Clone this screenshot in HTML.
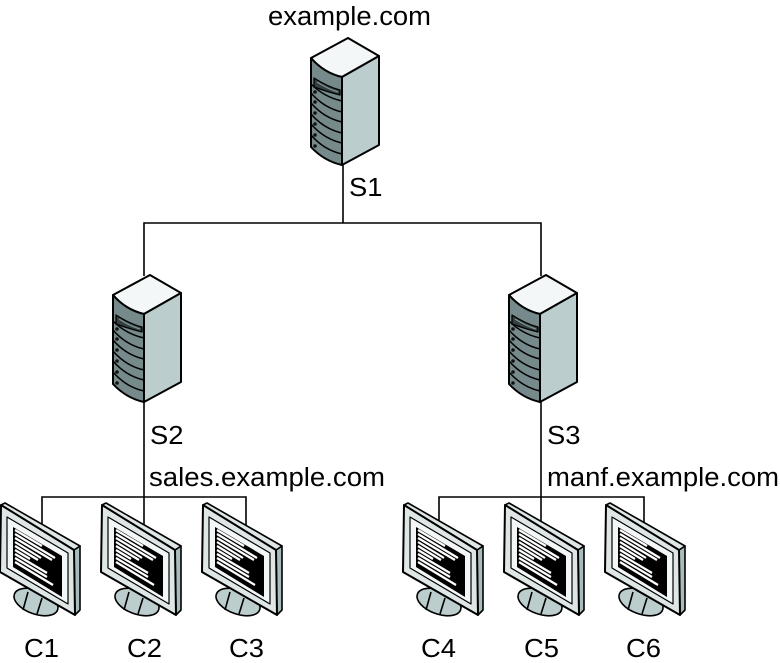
<!DOCTYPE html>
<html>
<head>
<meta charset="utf-8">
<style>
html,body{margin:0;padding:0;background:#fff;}
svg{display:block;}
text{font-family:"Liberation Sans",sans-serif;font-size:25.5px;fill:#000;}
</style>
</head>
<body>
<svg width="780" height="663" viewBox="0 0 780 663" xmlns="http://www.w3.org/2000/svg">
<defs>
<g id="srv" stroke-linejoin="round">
  <path d="M-32 -18 L5 -38 L36 -20 L-1 1 Q-19 -3 -32 -18Z" fill="#f4f7f7" stroke="#000" stroke-width="2"/>
  <path d="M-1 1 L36 -20 L36 69 L-1 89Z" fill="#bccdce" stroke="#000" stroke-width="2"/>
  <path d="M-32 -18 Q-19 -3 -1 1 L-1 89 Q-19 85 -32 71Z" fill="#76898b" stroke="#000" stroke-width="2"/>
  <g fill="none" stroke="#000" stroke-width="1.5">
    <path d="M-32 8 Q-19 21 -1 25"/>
    <path d="M-32 17 Q-19 32 -1 36"/>
    <path d="M-32 27 Q-19 42 -1 46"/>
    <path d="M-32 38 Q-19 53 -1 57"/>
    <path d="M-32 48 Q-19 63 -1 67"/>
    <path d="M-32 59 Q-19 74 -1 78"/>
  </g>
  <path d="M-29 2 Q-15 11 -3 14 L-3 19 Q-15 16 -29 11Z" fill="#33403f" stroke="#000" stroke-width="1.3"/>
  <path d="M-26 6 Q-15 13 -5 16" fill="none" stroke="#7f9596" stroke-width="1.3"/>
  <g fill="#111">
    <circle cx="-28" cy="16" r="1.8"/>
    <circle cx="-28" cy="26" r="1.8"/>
    <circle cx="-28" cy="37" r="1.8"/>
    <circle cx="-28" cy="48" r="1.8"/>
    <circle cx="-28" cy="59" r="1.8"/>
    <circle cx="-28" cy="70" r="1.8"/>
  </g>
</g>
<g id="mon" stroke-linejoin="round">
  <ellipse cx="36" cy="602" rx="23" ry="12" transform="rotate(20 36 602)" fill="#bccdce" stroke="#000" stroke-width="1.6"/>
  <path d="M28 592 L23 610 M42 598 L37 614" fill="none" stroke="#000" stroke-width="1.6"/>
  <path d="M74 550 L80 546 L80 610 L75 615Z" fill="#a9bcbd" stroke="#000" stroke-width="1.6"/>
  <path d="M1 505 L5 503 L80 546 L74 550Z" fill="#dfe6e6" stroke="#000" stroke-width="1.6"/>
  <path d="M1 505 L74 550 L75 615 L0 572Z" fill="#dfe6e6" stroke="#000" stroke-width="2"/>
  <path d="M7 517 L68 553 L68 604 L7 568Z" fill="#f4f7f7" stroke="#000" stroke-width="1.2"/>
  <path d="M13 527 L62 556 L62 597 L13 567Z" fill="#000"/>
  <g stroke="#fff" stroke-width="2.2" fill="none">
    <path d="M15 530 L42 546"/>
    <path d="M15 534 L55 558"/>
    <path d="M15 538 L52 560"/>
    <path d="M15 542 L41 558"/>
    <path d="M15 546 L38 560"/>
    <path d="M15 550 L30 559"/>
    <path d="M15 554 L47 573"/>
    <path d="M15 558 L47 577"/>
    <path d="M15 562 L53 585"/>
  </g>
</g>
</defs>

<g fill="none" stroke="#000" stroke-width="1.6">
  <path d="M343 160 V223 M144 276 V223 H541 V276"/>
  <path d="M144 400 V525"/>
  <path d="M541 400 V525"/>
  <path d="M42 525 V497 H246 V525"/>
  <path d="M439 525 V497 H644 V525"/>
</g>

<use href="#srv" transform="translate(343,76)"/>
<use href="#srv" transform="translate(145,313)"/>
<use href="#srv" transform="translate(541,313)"/>

<use href="#mon"/>
<use href="#mon" x="101"/>
<use href="#mon" x="202"/>
<use href="#mon" x="403"/>
<use href="#mon" x="504"/>
<use href="#mon" x="605"/>

<text x="268" y="25" textLength="163" lengthAdjust="spacingAndGlyphs">example.com</text>
<text x="349" y="196" textLength="33.5" lengthAdjust="spacingAndGlyphs">S1</text>
<text x="150" y="444" textLength="33.5" lengthAdjust="spacingAndGlyphs">S2</text>
<text x="149" y="486" textLength="236" lengthAdjust="spacingAndGlyphs">sales.example.com</text>
<text x="547" y="444" textLength="33.5" lengthAdjust="spacingAndGlyphs">S3</text>
<text x="547" y="486" textLength="232" lengthAdjust="spacingAndGlyphs">manf.example.com</text>
<text x="24" y="657" textLength="35" lengthAdjust="spacingAndGlyphs">C1</text>
<text x="127" y="657" textLength="35" lengthAdjust="spacingAndGlyphs">C2</text>
<text x="229" y="657" textLength="35" lengthAdjust="spacingAndGlyphs">C3</text>
<text x="421" y="657" textLength="35" lengthAdjust="spacingAndGlyphs">C4</text>
<text x="524" y="657" textLength="35" lengthAdjust="spacingAndGlyphs">C5</text>
<text x="626" y="657" textLength="35" lengthAdjust="spacingAndGlyphs">C6</text>
</svg>
</body>
</html>
